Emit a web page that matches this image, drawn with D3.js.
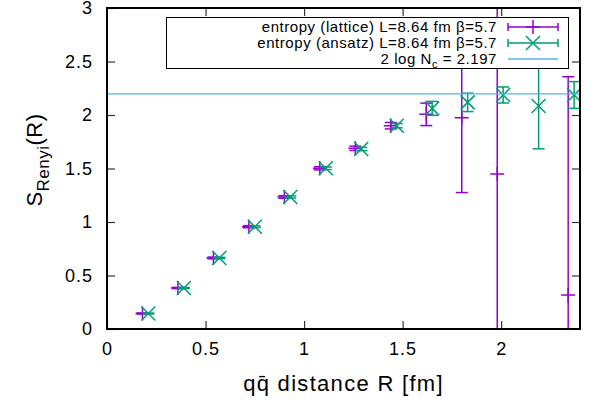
<!DOCTYPE html>
<html>
<head>
<meta charset="utf-8">
<script src="https://cdn.jsdelivr.net/npm/d3@7"></script>
<style>
  body { margin: 0; background: #fff; }
  svg { display: block; font-family: "Liberation Sans", Arial, sans-serif; }
</style>
</head>
<body>
<div id="content"></div>
<script>
// lattice data (purple)
const latR = [0.18, 0.36, 0.54, 0.72, 0.90, 1.08, 1.26, 1.44, 1.62, 1.80, 1.98, 2.34];
const latS = [0.145, 0.383, 0.664, 0.956, 1.234, 1.502, 1.689, 1.900, 2.006, 1.975, 1.449, 0.318];
const latErr = [0.005, 0.006, 0.008, 0.010, 0.012, 0.015, 0.020, 0.030, 0.105, 0.700, 1.800, 2.040];

// ansatz data (green)
const ansR = [0.21, 0.39, 0.57, 0.75, 0.93, 1.11, 1.29, 1.47, 1.65, 1.83, 2.01, 2.19, 2.37];
const ansS = [0.145, 0.383, 0.664, 0.956, 1.234, 1.502, 1.682, 1.900, 2.062, 2.118, 2.187, 2.084, 2.187];
const ansErr = [0.004, 0.005, 0.006, 0.008, 0.010, 0.012, 0.015, 0.020, 0.065, 0.086, 0.075, 0.400, 0.125];

const logNc = 2.197;

const xTicks = [0, 0.5, 1, 1.5, 2];
const yTicks = [0, 0.5, 1, 1.5, 2, 2.5, 3];

const legendLabels = [
  "entropy (lattice) L=8.64 fm \u03b2=5.7",
  "entropy (ansatz) L=8.64 fm \u03b2=5.7",
  "2 log N"
];

const W = 597, H = 402;
const margin = { top: 8, right: 17, bottom: 73, left: 107 };
const purple = "#9400d3", green = "#009e73", blue = "#56b4e9";

const svg = d3.select("#content").append("svg")
  .attr("width", W).attr("height", H);

const x = d3.scaleLinear().domain([0, 2.4]).range([margin.left, W - margin.right]);
const y = d3.scaleLinear().domain([0, 3]).range([H - margin.bottom, margin.top]);

svg.append("clipPath").attr("id", "clip")
  .append("rect")
  .attr("x", x(0)).attr("y", y(3))
  .attr("width", x(2.4) - x(0)).attr("height", y(0) - y(3));

// axes with inward ticks, mirrored on top/right
svg.append("g")
  .attr("transform", `translate(0,${y(0)})`)
  .call(d3.axisBottom(x).tickValues(xTicks).tickFormat(d3.format("~g")).tickSizeInner(-8).tickSizeOuter(0).tickPadding(13))
  .call(g => g.select(".domain").remove());
svg.append("g")
  .attr("transform", `translate(0,${y(3)})`)
  .call(d3.axisTop(x).tickValues(xTicks.slice(1)).tickFormat("").tickSizeInner(-8).tickSizeOuter(0))
  .call(g => g.select(".domain").remove());
svg.append("g")
  .attr("transform", `translate(${x(0)},0)`)
  .call(d3.axisLeft(y).tickValues(yTicks).tickFormat(d3.format("~g")).tickSizeInner(-8).tickSizeOuter(0).tickPadding(14))
  .call(g => g.select(".domain").remove());
svg.append("g")
  .attr("transform", `translate(${x(2.4)},0)`)
  .call(d3.axisRight(y).tickValues(yTicks.slice(1, -1)).tickFormat("").tickSizeInner(-8).tickSizeOuter(0))
  .call(g => g.select(".domain").remove());

svg.selectAll(".tick line").attr("stroke", "#333").attr("stroke-width", 1.2);
svg.selectAll(".tick text").attr("font-size", 18).attr("fill", "#000")
  .attr("letter-spacing", 1)
  .attr("font-family", "Liberation Sans, Arial, sans-serif");

const plot = svg.append("g").attr("clip-path", "url(#clip)");

function drawSeries(R, S, E, color, marker) {
  const g = plot.append("g").attr("stroke", color).attr("stroke-width", 1.5).attr("fill", "none");
  R.forEach((r, i) => {
    const cx = x(r), cy = y(S[i]);
    const y0 = y(S[i] - E[i]), y1 = y(S[i] + E[i]);
    g.append("line").attr("x1", cx).attr("x2", cx).attr("y1", y0).attr("y2", y1);
    g.append("line").attr("x1", cx - 6).attr("x2", cx + 6).attr("y1", y0).attr("y2", y0);
    g.append("line").attr("x1", cx - 6).attr("x2", cx + 6).attr("y1", y1).attr("y2", y1);
    marker(g, cx, cy);
  });
}
const plus = (g, cx, cy) => {
  g.append("path").attr("d", `M${cx - 7},${cy}H${cx + 7}M${cx},${cy - 7}V${cy + 7}`);
};
const cross = (g, cx, cy) => {
  g.append("path").attr("d", `M${cx - 7},${cy - 7}L${cx + 7},${cy + 7}M${cx - 7},${cy + 7}L${cx + 7},${cy - 7}`);
};

drawSeries(latR, latS, latErr, purple, plus);
drawSeries(ansR, ansS, ansErr, green, cross);

plot.append("line")
  .attr("x1", x(0)).attr("x2", x(2.4))
  .attr("y1", y(logNc)).attr("y2", y(logNc))
  .attr("stroke", blue).attr("stroke-width", 1.2);

// legend
const leg = svg.append("g");
leg.append("rect").attr("x", 166.5).attr("y", 17.5).attr("width", 402).attr("height", 51)
  .attr("fill", "#fff").attr("stroke", "#000").attr("stroke-width", 1);
const rowY = [27, 43, 59];
const colors = [purple, green, blue];
legendLabels.forEach((lab, i) => {
  const t = leg.append("text").attr("x", 497).attr("y", rowY[i] + 5)
    .attr("text-anchor", "end").attr("font-size", 15).attr("letter-spacing", 0.55);
  if (i < 2) {
    t.text(lab);
  } else {
    t.append("tspan").text(lab);
    t.append("tspan").attr("font-size", 11).attr("dy", 4).text("c");
    t.append("tspan").attr("dy", -4).text(" = " + logNc);
  }
  const lg = leg.append("g").attr("stroke", colors[i]).attr("stroke-width", 1.5);
  lg.append("line").attr("x1", 508).attr("x2", 558).attr("y1", rowY[i]).attr("y2", rowY[i]);
  if (i < 2) {
    lg.append("line").attr("x1", 508).attr("x2", 508).attr("y1", rowY[i] - 4).attr("y2", rowY[i] + 4);
    lg.append("line").attr("x1", 558).attr("x2", 558).attr("y1", rowY[i] - 4).attr("y2", rowY[i] + 4);
    (i === 0 ? plus : cross)(lg, 533, rowY[i]);
  }
});

// frame
svg.append("rect")
  .attr("x", x(0)).attr("y", y(3))
  .attr("width", x(2.4) - x(0)).attr("height", y(0) - y(3))
  .attr("fill", "none").attr("stroke", "#000").attr("stroke-width", 2);

// axis labels
svg.append("text")
  .attr("x", (x(0) + x(2.4)) / 2).attr("y", 391)
  .attr("text-anchor", "middle").attr("font-size", 22).attr("letter-spacing", 1.3)
  .text("qq\u0304 distance R [fm]");

const yl = svg.append("text")
  .attr("transform", `translate(42,160) rotate(-90)`)
  .attr("text-anchor", "middle").attr("font-size", 22).attr("letter-spacing", 0.5);
yl.append("tspan").text("S");
yl.append("tspan").attr("font-size", 17).attr("dy", 7).text("Renyi");
yl.append("tspan").attr("dy", -7).text("(R)");
</script>
</body>
</html>
